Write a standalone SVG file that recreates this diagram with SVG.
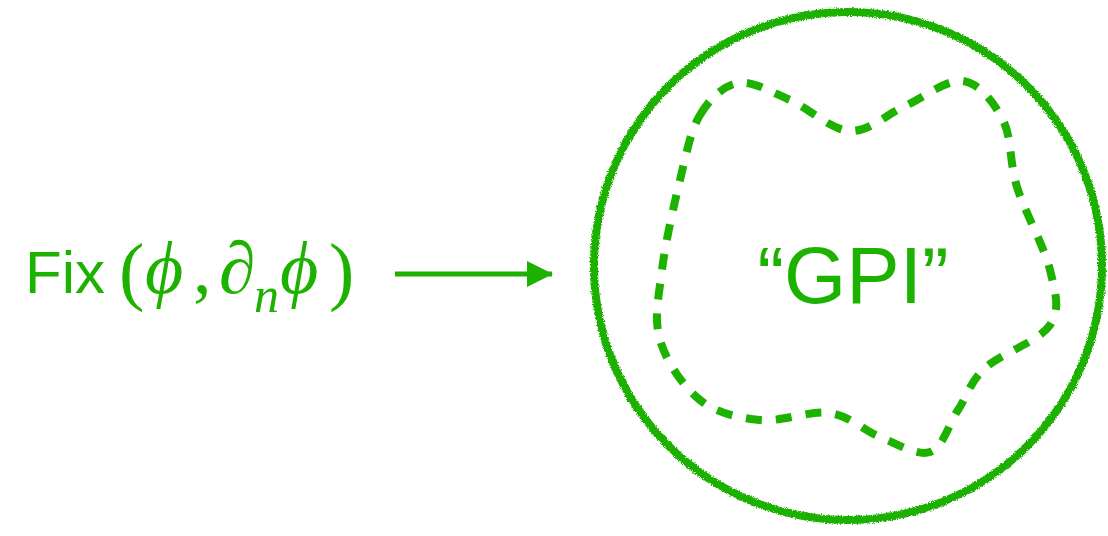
<svg xmlns="http://www.w3.org/2000/svg" width="1108" height="536" viewBox="0 0 1108 536">
<style>
.sans{font-family:"Liberation Sans",Arial,sans-serif;fill:#1db100}
.math{font-family:"Liberation Serif","DejaVu Serif",serif;font-style:italic;fill:#1db100}
.up{font-style:normal}
.edge{stroke:#1db100;fill:none}
</style>
<defs>
<marker id="arrow" markerUnits="userSpaceOnUse" markerWidth="28" markerHeight="28" refX="25" refY="13" orient="auto">
<path d="M0,0 L26,13 L0,26 Z" fill="#1db100"/>
</marker>
<filter id="rough" x="-5%" y="-5%" width="110%" height="110%">
<feTurbulence type="fractalNoise" baseFrequency="0.8" numOctaves="2" seed="4"/>
<feDisplacementMap in="SourceGraphic" scale="4" xChannelSelector="R" yChannelSelector="G"/>
</filter>
</defs>
<rect width="1108" height="536" fill="#fff"/>
<g id="input-label">
<text class="sans" x="25" y="293" font-size="60">Fix</text>
<text class="math" x="119" y="296" font-size="76"><tspan class="up">(</tspan></text>
<text class="math" x="145" y="293" font-size="74">ϕ</text>
<text class="math" x="193" y="293" font-size="74"><tspan class="up">,</tspan></text>
<text class="math" x="219" y="293" font-size="74">∂</text>
<text class="math" x="254" y="312" font-size="50">n</text>
<text class="math" x="280" y="293" font-size="74">ϕ</text>
<text class="math" x="329" y="296" font-size="76"><tspan class="up">)</tspan></text>
</g>
<g id="connectors">
<line class="edge" x1="395" y1="274" x2="552" y2="274" stroke-width="5" marker-end="url(#arrow)"/>
</g>
<g id="gpi-region">
<circle cx="848" cy="266" r="254" fill="none" stroke="#1db100" stroke-width="8" filter="url(#rough)"/>
<path d="M700,115 C709.7,98.8 723,85.5 738,83 C753,80.5 771.3,92 790,100 C808.7,108 830.8,130 850,131 C869.2,132 886.2,114.3 905,106 C923.8,97.7 946.7,78.7 963,81 C979.3,83.3 994,102.3 1003,120 C1012,137.7 1009.2,162 1017,187 C1024.8,212 1044.5,247 1050,270 C1055.5,293 1060.8,308.7 1050,325 C1039.2,341.3 1000.3,353.8 985,368 C969.7,382.2 967.2,396 958,410 C948.8,424 943,447.5 930,452 C917,456.5 896.7,443.5 880,437 C863.3,430.5 850,415.8 830,413 C810,410.2 781.7,422.2 760,420 C738.3,417.8 716.7,413.3 700,400 C683.3,386.7 666.3,361.7 660,340 C653.7,318.3 658.7,296.7 662,270 C665.3,243.3 673.7,205.8 680,180 C686.3,154.2 690.3,131.2 700,115 Z" fill="none" stroke="#1db100" stroke-width="8" stroke-dasharray="16 14"/>
<text class="sans" x="853" y="303" font-size="80" text-anchor="middle">“GPI”</text>
</g>
</svg>
